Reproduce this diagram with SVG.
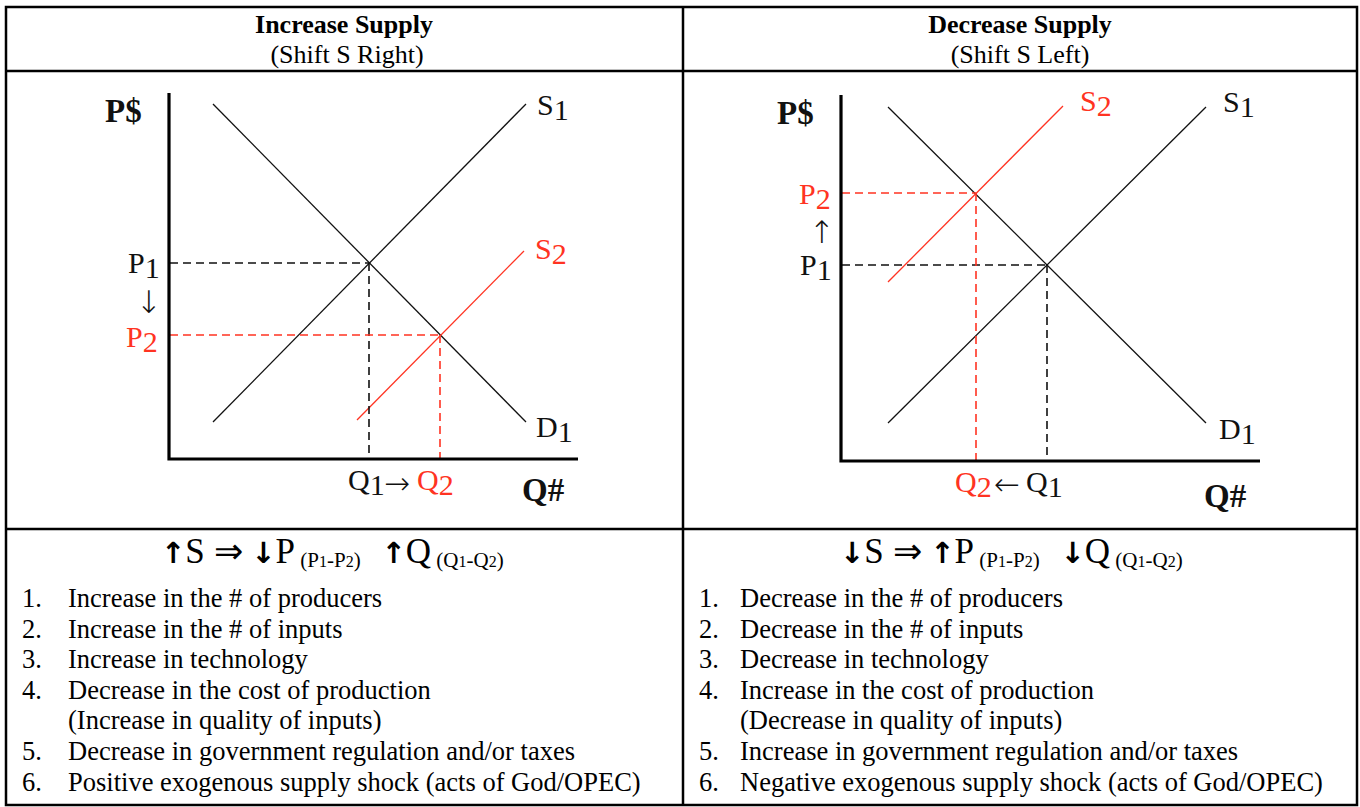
<svg xmlns="http://www.w3.org/2000/svg" width="1360" height="807" viewBox="0 0 1360 807">
<style>
.border{fill:none;stroke:#000;stroke-width:2.5}
.axis{stroke:#000;stroke-width:3.2;fill:none}
.curve{stroke:#111;stroke-width:1.3;fill:none}
.curve-red{stroke:#ff3322;stroke-width:1.3;fill:none}
.dash{stroke:#111;stroke-width:1.6;stroke-dasharray:8 5;fill:none}
.dash-red{stroke:#ff3322;stroke-width:1.6;stroke-dasharray:8 5;fill:none}
.hd{font-family:"Liberation Serif","Times New Roman",serif;font-size:26px;fill:#000;text-anchor:middle}
.hdb{font-weight:bold}
.lbl{font-family:"Liberation Serif","Times New Roman",serif;font-size:30px;fill:#111}
.arr{font-family:"DejaVu Sans",sans-serif;font-weight:200;font-size:31px;fill:#111}
.red{fill:#ff3322}
.ax{font-family:"Liberation Serif","Times New Roman",serif;font-size:33px;font-weight:bold;fill:#111}
.fm{font-family:"Liberation Serif","Times New Roman",serif;font-size:35px;fill:#000}
.fa{font-family:"DejaVu Sans",sans-serif;font-weight:bold;font-size:29px}
.fs{font-size:21px}
.fss{font-size:16px}
.li{font-family:"Liberation Serif","Times New Roman",serif;font-size:26.5px;fill:#000}
</style>

<g id="table">
<rect class="border" x="6" y="7" width="1351" height="798"/>
<line class="border" x1="6" y1="71" x2="1357" y2="71"/>
<line class="border" x1="6" y1="529" x2="1357" y2="529"/>
<line class="border" x1="683" y1="7" x2="683" y2="805"/>
</g>

<g id="header-left">
<text class="hd hdb" x="344" y="33">Increase Supply</text>
<text class="hd" x="347" y="63">(Shift S Right)</text>
</g>
<g id="header-right">
<text class="hd hdb" x="1020" y="33">Decrease Supply</text>
<text class="hd" x="1020" y="63">(Shift S Left)</text>
</g>

<g id="graph-left">
<g id="left-lines">
<line class="curve" x1="213" y1="104" x2="526" y2="422"/>
<line class="curve" x1="213" y1="422" x2="526" y2="104"/>
<line class="curve-red" x1="357" y1="420" x2="524" y2="251"/>
<line class="dash" x1="170" y1="263" x2="369" y2="263"/>
<line class="dash" x1="369" y1="263" x2="369" y2="458"/>
<line class="dash-red" x1="170" y1="335" x2="440" y2="335"/>
<line class="dash-red" x1="440" y1="335" x2="440" y2="458"/>
<polyline class="axis" points="169,93 169,459 578,459"/>
</g>
<text class="ax" x="105" y="122">P$</text>
<text class="ax" x="522" y="501">Q#</text>
<text class="lbl" x="537" y="115">S<tspan dy="5">1</tspan></text>
<text class="lbl red" x="535" y="259">S<tspan dy="5">2</tspan></text>
<text class="lbl" x="536" y="437">D<tspan dy="5">1</tspan></text>
<text class="lbl" x="128" y="273">P<tspan dy="5">1</tspan></text>
<text class="arr" x="136" y="313">↓</text>
<text class="lbl red" x="126" y="347">P<tspan dy="5">2</tspan></text>
<text class="lbl" x="348" y="490">Q<tspan dy="5">1</tspan></text>
<text class="arr" x="384" y="494">→</text>
<text class="lbl red" x="417" y="490">Q<tspan dy="5">2</tspan></text>
</g>

<g id="graph-right">
<g id="right-lines">
<line class="curve" x1="888" y1="107" x2="1206" y2="423"/>
<line class="curve" x1="888" y1="423" x2="1206" y2="107"/>
<line class="curve-red" x1="888" y1="282" x2="1063" y2="106"/>
<line class="dash" x1="842" y1="265" x2="1047" y2="265"/>
<line class="dash" x1="1047" y1="265" x2="1047" y2="460"/>
<line class="dash-red" x1="842" y1="193" x2="976" y2="193"/>
<line class="dash-red" x1="976" y1="193" x2="976" y2="460"/>
<polyline class="axis" points="841,95 841,461 1260,461"/>
</g>
<text class="ax" x="777" y="124">P$</text>
<text class="ax" x="1204" y="507">Q#</text>
<text class="lbl red" x="1080" y="111">S<tspan dy="5">2</tspan></text>
<text class="lbl" x="1223" y="112">S<tspan dy="5">1</tspan></text>
<text class="lbl" x="1219" y="439">D<tspan dy="5">1</tspan></text>
<text class="lbl red" x="799" y="204">P<tspan dy="5">2</tspan></text>
<text class="arr" x="809" y="243">↑</text>
<text class="lbl" x="800" y="275">P<tspan dy="5">1</tspan></text>
<text class="lbl red" x="955" y="492">Q<tspan dy="5">2</tspan></text>
<text class="arr" x="994" y="495">←</text>
<text class="lbl" x="1026" y="492">Q<tspan dy="5">1</tspan></text>
</g>

<g id="formula-left">
<text class="fm" x="161" y="563"><tspan class="fa">↑</tspan>S ⇒ <tspan class="fa">↓</tspan>P<tspan class="fs" dy="4"> (P<tspan class="fss">1</tspan>-P<tspan class="fss">2</tspan>)</tspan><tspan dy="-4" dx="12"> </tspan><tspan class="fa">↑</tspan>Q<tspan class="fs" dy="4"> (Q<tspan class="fss">1</tspan>-Q<tspan class="fss">2</tspan>)</tspan></text>
</g>
<g id="formula-right">
<text class="fm" x="840" y="563"><tspan class="fa">↓</tspan>S ⇒ <tspan class="fa">↑</tspan>P<tspan class="fs" dy="4"> (P<tspan class="fss">1</tspan>-P<tspan class="fss">2</tspan>)</tspan><tspan dy="-4" dx="12"> </tspan><tspan class="fa">↓</tspan>Q<tspan class="fs" dy="4"> (Q<tspan class="fss">1</tspan>-Q<tspan class="fss">2</tspan>)</tspan></text>
</g>

<g id="list-left">
<text class="li" x="22" y="607">1.</text><text class="li" x="68" y="607">Increase in the # of producers</text>
<text class="li" x="22" y="638">2.</text><text class="li" x="68" y="638">Increase in the # of inputs</text>
<text class="li" x="22" y="668">3.</text><text class="li" x="68" y="668">Increase in technology</text>
<text class="li" x="22" y="699">4.</text><text class="li" x="68" y="699">Decrease in the cost of production</text>
<text class="li" x="68" y="729">(Increase in quality of inputs)</text>
<text class="li" x="22" y="760">5.</text><text class="li" x="68" y="760">Decrease in government regulation and/or taxes</text>
<text class="li" x="22" y="791">6.</text><text class="li" x="68" y="791">Positive exogenous supply shock (acts of God/OPEC)</text>
</g>
<g id="list-right">
<text class="li" x="699" y="607">1.</text><text class="li" x="740" y="607">Decrease in the # of producers</text>
<text class="li" x="699" y="638">2.</text><text class="li" x="740" y="638">Decrease in the # of inputs</text>
<text class="li" x="699" y="668">3.</text><text class="li" x="740" y="668">Decrease in technology</text>
<text class="li" x="699" y="699">4.</text><text class="li" x="740" y="699">Increase in the cost of production</text>
<text class="li" x="740" y="729">(Decrease in quality of inputs)</text>
<text class="li" x="699" y="760">5.</text><text class="li" x="740" y="760">Increase in government regulation and/or taxes</text>
<text class="li" x="699" y="791">6.</text><text class="li" x="740" y="791">Negative exogenous supply shock (acts of God/OPEC)</text>
</g>
</svg>
